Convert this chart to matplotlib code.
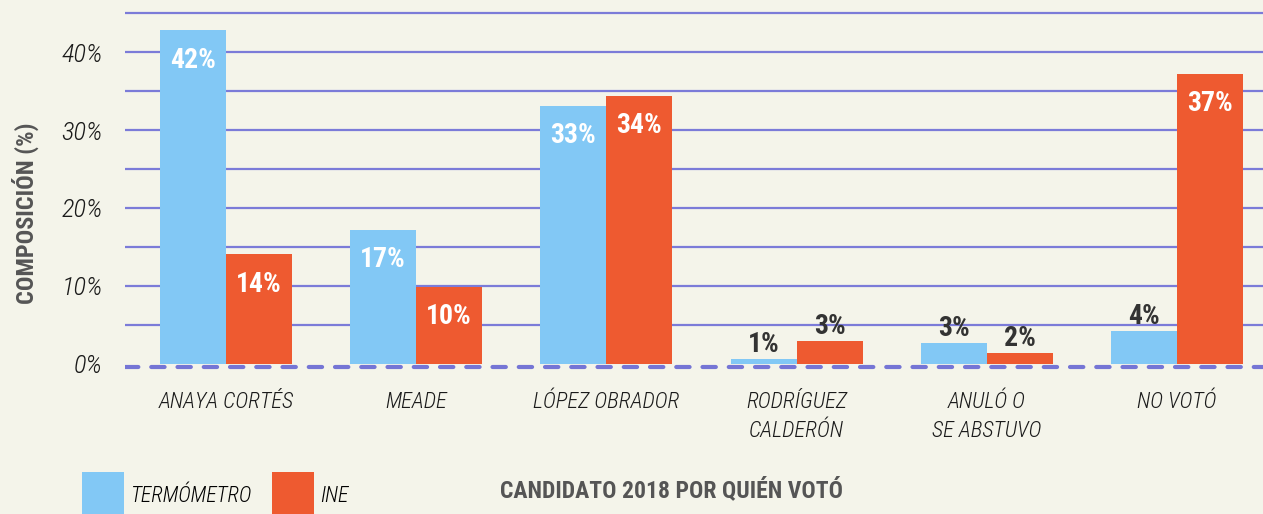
import matplotlib
matplotlib.use('Agg')
import matplotlib.pyplot as plt
import numpy as np
from matplotlib import font_manager

categories = ['ANAYA CORTÉS', 'MEADE', 'LÓPEZ OBRADOR', 'RODRÍGUEZ\nCALDERÓN', 'ANULÓ O\nSE ABSTUVO', 'NO VOTÓ']
termometro = [42.8, 17.2, 33.1, 0.7, 2.7, 4.2]
ine = [14.1, 9.9, 34.4, 2.9, 1.4, 37.2]
termometro_labels = [42, 17, 33, 1, 3, 4]
ine_labels = [14, 10, 34, 3, 2, 37]
yticks = [0, 10, 20, 30, 40]

BLUE = '#82c8f5'
RED = '#ee5a30'
BG = '#f4f4ea'
GRID = '#7b7bd8'

names = {f.name for f in font_manager.fontManager.ttflist}
if 'Roboto Condensed' in names:
    FONT, STRETCH = 'Roboto Condensed', 'normal'
else:
    FONT, STRETCH = 'DejaVu Sans', 'condensed'
plt.rcParams['font.family'] = FONT
plt.rcParams['font.stretch'] = STRETCH

fig = plt.figure(figsize=(12.63, 5.14), dpi=100, facecolor=BG)
ax = fig.add_axes([125 / 1263, 1 - 372 / 514, 1 - 125 / 1263, 372 / 514])
ax.set_facecolor(BG)

x = np.arange(len(categories))
w = 0.347
b1 = ax.bar(x - w / 2, termometro, w, color=BLUE, zorder=3, label='TERMÓMETRO')
b2 = ax.bar(x + w / 2, ine, w, color=RED, zorder=3, label='INE')

# grid every 5%
for g in np.arange(5, 50, 5):
    ax.axhline(g, color=GRID, lw=1.6, zorder=1)
ax.axhline(-0.45, color='#7575d5', lw=3.0, ls=(0, (3.2, 3.1)),
           dash_capstyle='round', zorder=2)

for bars, labs in ((b1, termometro_labels), (b2, ine_labels)):
    for rect, lab in zip(bars, labs):
        cx = rect.get_x() + rect.get_width() / 2
        h = rect.get_height()
        if lab >= 10:
            ax.annotate(f'{lab}%', (cx, h), xytext=(0, -27), textcoords='offset points',
                        ha='center', va='baseline', color='white', fontsize=20,
                        fontweight='bold', zorder=4)
        else:
            ax.annotate(f'{lab}%', (cx, h), xytext=(0, 5), textcoords='offset points',
                        ha='center', va='baseline', color='#333333', fontsize=20,
                        fontweight='bold', zorder=4)

ax.set_xlim(-0.531, 5.452)
ax.set_ylim(-1.03, 46.67)
ax.set_yticks(yticks)
ax.set_yticklabels([f'{t}%' for t in yticks], fontsize=19, style='italic',
                   fontweight='light', color='#1a1a1a')
ax.set_xticks(x)
ax.set_xticklabels(categories, fontsize=16, style='italic', fontweight='light',
                   color='#1a1a1a', linespacing=1.4)
ax.tick_params(axis='y', length=0, pad=16)
ax.tick_params(axis='x', length=0, pad=14)
for s in ax.spines.values():
    s.set_visible(False)

fig.text(25 / 1263, 1 - 213 / 514, 'COMPOSICIÓN (%)', rotation=90, ha='center', va='center',
         fontsize=17.5, fontweight='bold', color='#555555')
fig.text(672 / 1263, 1 - 490 / 514, 'CANDIDATO 2018 POR QUIÉN VOTÓ', ha='center', va='center',
         fontsize=17, fontweight='bold', color='#555555')

fig.legend(handles=[b1, b2], loc='upper left', bbox_to_anchor=(82 / 1263, 1 - 472 / 514),
           ncol=2, frameon=False, prop={'style': 'italic', 'weight': 'light', 'size': 15.5},
           handlelength=1.95, handleheight=3.0, handletextpad=0.3, columnspacing=0.95,
           borderpad=0, borderaxespad=0)

fig.savefig('out.png', dpi=100, facecolor=BG)
